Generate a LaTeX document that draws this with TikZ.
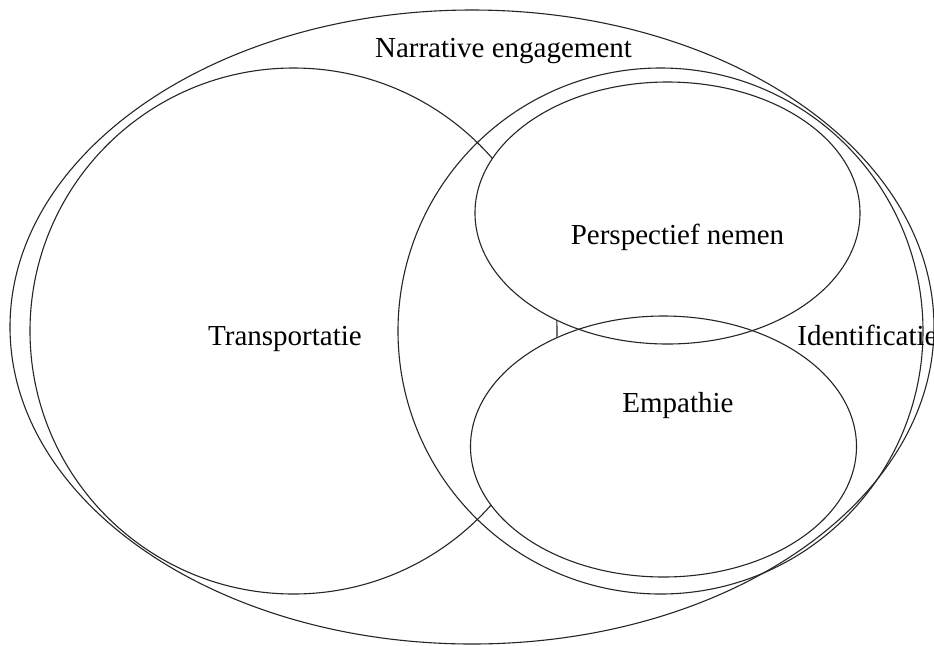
\documentclass[tikz,border=0pt]{standalone}
\usepackage{fontspec}
\setmainfont{Liberation Serif}
\usetikzlibrary{shapes.geometric}
\begin{document}
\begin{tikzpicture}[x=0.5pt,y=-0.5pt,
  ell/.style={ellipse, inner sep=0pt, outer sep=0pt},
  outline/.style={ell, draw=black!85, line width=0.55pt},
  whitefill/.style={ell, fill=white},
  lbl/.style={font=\fontsize{14.5}{17}\selectfont, anchor=base, inner sep=0pt}]
\useasboundingbox (0,0) rectangle (934,645);
\fill[white] (0,0) rectangle (934,645);
% outer and the two big circles
\node[outline, minimum width=462pt, minimum height=317pt] (narr) at (472,327) {};
\node[outline, minimum width=263.5pt, minimum height=263pt] (trans) at (293.5,331) {};
\node[outline, minimum width=262.5pt, minimum height=263pt] (ident) at (660.5,331) {};
% inner ellipses hide what lies under them
\node[whitefill, minimum width=192.5pt, minimum height=131pt] (perspfill) at (667.5,213) {};
\node[whitefill, minimum width=193pt, minimum height=130.5pt] (empfill) at (663.5,446.5) {};
\node[outline, minimum width=192.5pt, minimum height=131pt] (persp) at (667.5,213) {};
\node[outline, minimum width=193pt, minimum height=130.5pt] (emp) at (663.5,446.5) {};
% labels
\node[lbl] (tnarr) at (503.5,57) {Narrative engagement};
\node[lbl] (ttrans) at (285,345) {Transportatie};
\node[lbl] (tpersp) at (677.5,244) {Perspectief nemen};
\node[lbl] (temp) at (678,412) {Empathie};
\node[lbl, anchor=base west] (tident) at (797,345) {Identificatie};
\end{tikzpicture}
\end{document}
